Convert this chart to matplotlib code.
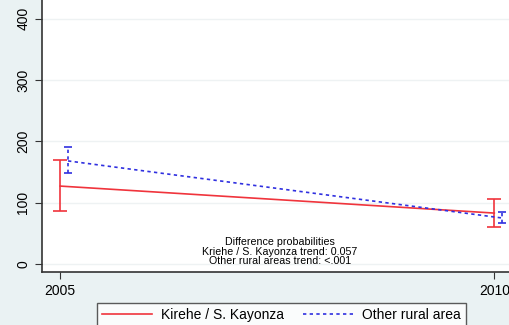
import matplotlib.pyplot as plt

# valores
anos = [2005, 2010]
kirehe_media = [127, 83]
kirehe_inf = [86, 60]
kirehe_sup = [170, 106]
outras_media = [168, 75]
outras_inf = [148, 67]
outras_sup = [191, 84]
deslocamento = 0.09

plt.rcParams['font.family'] = ['Liberation Sans', 'DejaVu Sans']

fig = plt.figure(figsize=(5.1, 3.25), dpi=100)
fig.patch.set_facecolor('#eaf2f3')
W, H = 510, 325
ax = fig.add_axes([42 / W, 53 / H, 487 / W, 278 / H])
ax.set_facecolor('white')

vermelho = '#f0343c'
azul = '#3030e0'

err_k = [[m - l for m, l in zip(kirehe_media, kirehe_inf)],
         [u - m for m, u in zip(kirehe_media, kirehe_sup)]]
ax.errorbar(anos, kirehe_media, yerr=err_k, color=vermelho, lw=1.2,
            capsize=5, capthick=1.2, label='Kirehe / S. Kayonza')

anos_o = [a + deslocamento for a in anos]
err_o = [[m - l for m, l in zip(outras_media, outras_inf)],
         [u - m for m, u in zip(outras_media, outras_sup)]]
eb = ax.errorbar(anos_o, outras_media, yerr=err_o, color=azul, lw=1.2,
                 ls=(0, (2, 2)), capsize=3, capthick=1.2, label='Other rural area')
for c in eb[2]:
    c.set_linestyle((0, (2, 2)))

ax.set_xlim(2004.79, 2010.4)
ax.set_ylim(-13, 440)
ax.set_xticks(anos)
ax.set_yticks([0, 100, 200, 300, 400])
ax.yaxis.grid(True, color='#eef2f3', lw=1)
ax.tick_params(axis='y', labelrotation=90, labelsize=10, length=5, color='#333333')
ax.tick_params(axis='x', labelsize=10, length=5, color='#333333')
for lab in ax.get_yticklabels():
    lab.set_va('center')
for s in ['top', 'right']:
    ax.spines[s].set_visible(False)
for s in ['left', 'bottom']:
    ax.spines[s].set_color('#333333')
    ax.spines[s].set_linewidth(1.2)

ax.text(2007.53, 20, 'Difference probabilities\nKriehe / S. Kayonza trend: 0.057\nOther rural areas trend: <.001',
        ha='center', va='center', fontsize=7.7, linespacing=0.95)

handles, labels = ax.get_legend_handles_labels()
handles = [h[0] for h in handles]
leg = fig.legend(handles, labels, loc='upper left', bbox_to_anchor=(97 / W, 1 - 303 / H),
                 ncol=2, fontsize=10, frameon=True, fancybox=False, edgecolor='#333333',
                 handlelength=3.6, handletextpad=0.65, columnspacing=1.4,
                 borderpad=0.35, borderaxespad=0)
leg.get_frame().set_linewidth(1.0)

fig.savefig('out.png', dpi=100, facecolor=fig.get_facecolor())
